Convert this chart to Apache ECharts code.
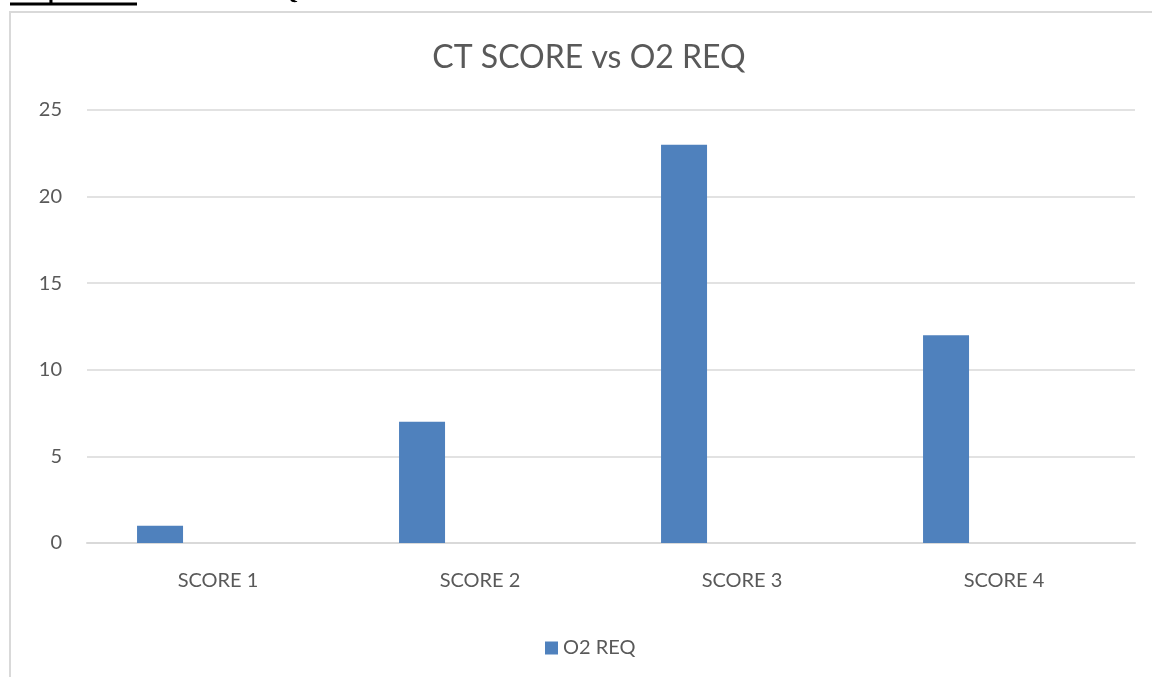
<!DOCTYPE html>
<html>
<head>
<meta charset="utf-8">
<script src="https://cdn.jsdelivr.net/npm/echarts@6/dist/echarts.min.js"></script>
<style>
html,body{margin:0;padding:0;background:#fff;}
#main{width:1152px;height:677px;}
</style>
</head>
<body>
<div id="main"></div>
<script>
const categories = ['SCORE 1', 'SCORE 2', 'SCORE 3', 'SCORE 4'];
const o2Req = [1, 7, 23, 12];
const spacer = [null, null, null, null];
const yTicks = { min: 0, max: 25, interval: 5 };

const chart = echarts.init(document.getElementById('main'), null, { renderer: 'canvas' });
const font = 'Lato, "Open Sans", sans-serif';
chart.setOption({
  animation: false,
  backgroundColor: '#ffffff',
  title: {
    text: 'CT SCORE vs O2 REQ',
    left: 584, top: 37, textAlign: 'center',
    textStyle: { fontFamily: font, fontSize: 32, fontWeight: 'normal', color: '#595959' }
  },
  legend: {
    data: ['O2 REQ'],
    top: 633, left: 540,
    itemWidth: 13, itemHeight: 13, itemGap: 6,
    icon: 'rect',
    textStyle: { fontFamily: font, fontSize: 20, color: '#595959' }
  },
  grid: { left: 87, right: 17, top: 110, bottom: 134, containLabel: false },
  xAxis: {
    type: 'category',
    data: categories,
    axisTick: { show: false },
    axisLine: { lineStyle: { color: '#d9d9d9', width: 2 } },
    axisLabel: { fontFamily: font, fontSize: 20, color: '#595959', margin: 28 }
  },
  yAxis: {
    type: 'value',
    min: yTicks.min, max: yTicks.max, interval: yTicks.interval,
    axisLine: { show: false },
    axisTick: { show: false },
    splitLine: { lineStyle: { color: '#d9d9d9', width: 1.5 } },
    axisLabel: { fontFamily: font, fontSize: 20, color: '#595959', margin: 25 }
  },
  series: [
    {
      name: 'O2 REQ', type: 'bar', data: o2Req,
      barWidth: 46, barGap: '152%',
      itemStyle: { color: '#4f81bd' }
    },
    {
      name: 'spacer', type: 'bar', data: spacer,
      barWidth: 46, itemStyle: { color: 'transparent' }
    }
  ],
  graphic: [
    { type: 'rect', shape: { x: 10, y: 12, width: 1200, height: 700 },
      style: { fill: 'none', stroke: '#d9d9d9', lineWidth: 2 }, silent: true },
    { type: 'text', x: 10, y: 4,
      style: { text: 'Graph 1: CT score vs O2 REQ', fontFamily: '"Liberation Serif", serif', fontWeight: 'bold', fontSize: 22, fill: '#000', textVerticalAlign: 'bottom', verticalAlign: 'bottom' } },
    { type: 'line', shape: { x1: 10, y1: 4, x2: 137, y2: 4 },
      style: { stroke: '#000', lineWidth: 3 } }
  ]
});
</script>
</body>
</html>
